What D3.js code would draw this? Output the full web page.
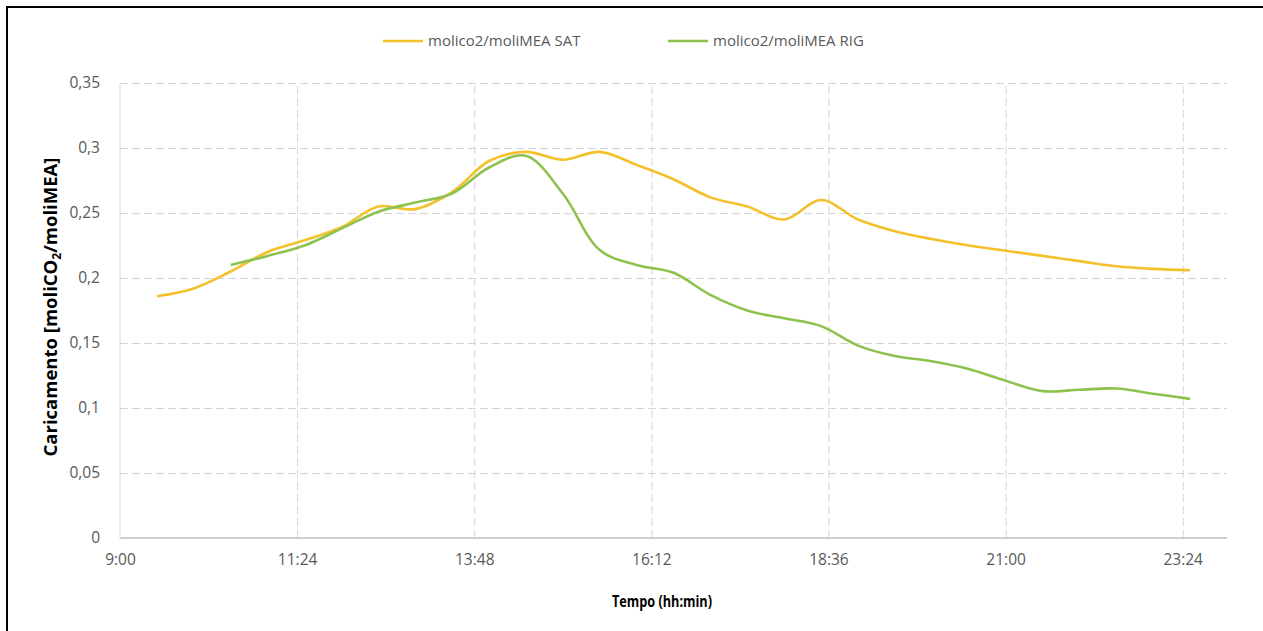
<!DOCTYPE html>
<html><head><meta charset="utf-8">
<script src="https://cdn.jsdelivr.net/npm/d3@7"></script>
<style>body{margin:0;background:#fff}svg{display:block}text{font-family:"Open Sans",sans-serif}</style>
</head><body><svg id="c" width="1263" height="631"></svg>
<script>
// ---- data ----
const satTimes = ["9:30","10:00","10:30","11:00","11:30","12:00","12:30","13:00","13:30","14:00","14:30","15:00","15:30","16:00","16:30","17:00","17:30","18:00","18:30","19:00","19:30","20:00","20:30","21:00","21:30","22:00","22:30","23:00","23:30"];
const satValues = [0.186,0.192,0.205,0.220,0.229,0.239,0.255,0.253,0.266,0.290,0.297,0.291,0.297,0.287,0.276,0.262,0.255,0.245,0.260,0.245,0.236,0.230,0.225,0.221,0.217,0.213,0.209,0.207,0.206];
const rigTimes = ["10:30","11:00","11:30","12:00","12:30","13:00","13:30","14:00","14:30","15:00","15:30","16:00","16:30","17:00","17:30","18:00","18:30","19:00","19:30","20:00","20:30","21:00","21:30","22:00","22:30","23:00","23:30"];
const rigValues = [0.210,0.217,0.225,0.238,0.251,0.258,0.265,0.285,0.294,0.265,0.2215,0.210,0.204,0.187,0.175,0.169,0.163,0.148,0.140,0.136,0.130,0.121,0.113,0.114,0.115,0.111,0.107];
const xTickLabels = ["9:00","11:24","13:48","16:12","18:36","21:00","23:24"];
const xDomainLabels = ["9:00","24:00"];
const yTickValues = [0,0.05,0.1,0.15,0.2,0.25,0.3,0.35];
const yTickLabels = ["0","0,05","0,1","0,15","0,2","0,25","0,3","0,35"];
const seriesNames = ["molico2/moliMEA SAT","molico2/moliMEA RIG"];
const xTitle = "Tempo (hh:min)";

// ---- setup ----
const toMin = s => { const [h,m] = s.split(":").map(Number); return h*60+m; };
const svg = d3.select("#c");
const L = 120, R = 1227, T = 83, B = 538;
const x = d3.scaleLinear().domain(xDomainLabels.map(toMin)).range([L,R]);
const y = d3.scaleLinear().domain([0,0.35]).range([B,T]);
const colors = ["#F4C12A","#8DC24F"];
const textCol = "#595959", gridCol = "#d4d4d4";

// frame
svg.append("path").attr("d","M7,631V7H1263").attr("fill","none").attr("stroke","#000").attr("stroke-width",2);

// horizontal gridlines
const gy = svg.append("g").attr("transform",`translate(${L},0)`)
  .call(d3.axisLeft(y).tickValues(yTickValues.slice(1)).tickSize(-(R-L)).tickFormat(""));
gy.select(".domain").remove();
gy.selectAll("line").attr("stroke",gridCol).attr("stroke-dasharray","8,4");

// vertical gridlines
const xTickVals = xTickLabels.map(toMin);
const gx = svg.append("g").attr("transform",`translate(0,${B})`)
  .call(d3.axisBottom(x).tickValues(xTickVals.slice(1)).tickSize(-(B-T)).tickFormat(""));
gx.select(".domain").remove();
gx.selectAll("line").attr("stroke",gridCol).attr("stroke-dasharray","8,4");

// axis lines
svg.append("line").attr("x1",L).attr("x2",L).attr("y1",T).attr("y2",B).attr("stroke","#d9d9d9");
svg.append("line").attr("x1",L).attr("x2",R).attr("y1",B).attr("y2",B).attr("stroke","#bfbfbf").attr("stroke-width",1.5);

// y tick labels
const ya = svg.append("g").attr("transform",`translate(${L},0)`)
  .call(d3.axisLeft(y).tickValues(yTickValues).tickSize(0).tickPadding(20).tickFormat((d,i)=>yTickLabels[i]));
ya.select(".domain").remove();
ya.selectAll("text").attr("fill",textCol).attr("font-size",15.5).attr("font-family","Open Sans");

// x tick labels
const xa = svg.append("g").attr("transform",`translate(0,${B})`)
  .call(d3.axisBottom(x).tickValues(xTickVals).tickSize(0).tickPadding(16).tickFormat((d,i)=>xTickLabels[i]));
xa.select(".domain").remove();
xa.selectAll("text").attr("fill",textCol).attr("font-size",15.5).attr("font-family","Open Sans");

// lines
const line = d3.line().x(d=>x(toMin(d[0]))).y(d=>y(d[1])).curve(d3.curveCatmullRom.alpha(0.5));
const series = [d3.zip(satTimes,satValues), d3.zip(rigTimes,rigValues)];
series.forEach((s,i)=>{
  svg.append("path").datum(s).attr("d",line).attr("fill","none")
    .attr("stroke",colors[i]).attr("stroke-width",2.6).attr("stroke-linejoin","round");
});

// legend
const legX = [383,668];
seriesNames.forEach((n,i)=>{
  svg.append("line").attr("x1",legX[i]).attr("x2",legX[i]+40).attr("y1",41).attr("y2",41)
    .attr("stroke",colors[i]).attr("stroke-width",2.6);
  svg.append("text").attr("x",legX[i]+45).attr("y",41).attr("dy","0.35em")
    .attr("fill",textCol).attr("font-size",15).text(n);
});

// axis titles
svg.append("text").attr("x",662).attr("y",607).attr("text-anchor","middle")
  .attr("font-weight","bold").attr("font-size",16).attr("fill","#000")
  .attr("textLength",100).attr("lengthAdjust","spacingAndGlyphs").text(xTitle);
const yt = svg.append("text").attr("transform","translate(57,307) rotate(-90)").attr("text-anchor","middle")
  .attr("font-weight","bold").attr("font-size",18.5).attr("fill","#000");
yt.append("tspan").text("Caricamento [moliCO");
yt.append("tspan").attr("font-size",12).attr("dy",4).text("2");
yt.append("tspan").attr("dy",-4).text("/moliMEA]");
</script></body></html>
